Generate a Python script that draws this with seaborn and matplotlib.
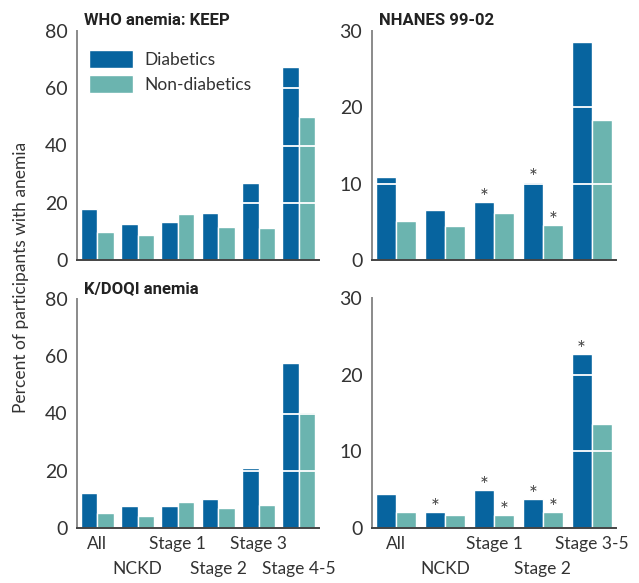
import matplotlib
matplotlib.use("Agg")
import matplotlib.pyplot as plt
import pandas as pd
import seaborn as sns

# ---- data -------------------------------------------------------------
groups = ["Diabetics", "Non-diabetics"]
keep_stages = ["All", "NCKD", "Stage 1", "Stage 2", "Stage 3", "Stage 4-5"]
nhanes_stages = ["All", "NCKD", "Stage 1", "Stage 2", "Stage 3-5"]

who_keep_diab = [17.8, 12.6, 13.3, 16.4, 26.9, 67.4]
who_keep_nondiab = [9.8, 8.7, 16.1, 11.5, 11.2, 49.9]
who_nhanes_diab = [10.9, 6.55, 7.6, 10.2, 28.6]
who_nhanes_nondiab = [5.1, 4.45, 6.15, 4.6, 18.3]
kdoqi_keep_diab = [12.3, 7.8, 7.8, 10.2, 21.0, 57.7]
kdoqi_keep_nondiab = [5.3, 4.3, 9.2, 7.1, 8.1, 40.6]
kdoqi_nhanes_diab = [4.5, 2.1, 5.0, 3.8, 22.7]
kdoqi_nhanes_nondiab = [2.1, 1.75, 1.75, 2.1, 13.6]

# significance flags (1 = marked with an asterisk)
who_nhanes_sig_diab = [0, 0, 1, 1, 0]
who_nhanes_sig_nondiab = [0, 0, 0, 1, 0]
kdoqi_nhanes_sig_diab = [0, 1, 1, 1, 1]
kdoqi_nhanes_sig_nondiab = [0, 0, 1, 1, 0]

keep_yticks = [0, 20, 40, 60, 80]
nhanes_yticks = [0, 10, 20, 30]

titles = ["WHO anemia: KEEP", "NHANES 99-02", "K/DOQI anemia", ""]
ylabel = "Percent of participants with anemia"

# ---- style ------------------------------------------------------------
sns.set_style("white")
plt.rcParams["font.family"] = ["Lato", "DejaVu Sans"]
TITLE_FONT = ["Roboto", "DejaVu Sans"]
BLUE = "#07649f"
TEAL = "#6bb4af"
TEXT = "#333333"

fig = plt.figure(figsize=(6.39, 5.83), dpi=100)
W, H = 639, 583


def add_axes(x0, y0, x1, y1):
    return fig.add_axes([x0 / W, 1 - y1 / H, (x1 - x0) / W, (y1 - y0) / H])


def panel(ax, stages, diab, nondiab, yticks, title, show_x,
          sig_d=None, sig_n=None, legend=False):
    df = pd.DataFrame({
        "stage": stages * 2,
        "group": [groups[0]] * len(stages) + [groups[1]] * len(stages),
        "pct": diab + nondiab,
    })
    sns.barplot(data=df, x="stage", y="pct", hue="group", order=stages,
                hue_order=groups, palette=[BLUE, TEAL], saturation=1,
                width=0.82, errorbar=None, legend=legend, ax=ax, zorder=1)
    ax.set_xlim(-0.5, len(stages) - 0.5)
    ax.set_ylim(0, yticks[-1])
    ax.set_yticks(yticks)
    ax.set_xlabel("")
    ax.set_ylabel("")
    ax.tick_params(axis="both", length=0, colors=TEXT)
    ax.tick_params(axis="y", pad=7, labelsize=14)
    ax.tick_params(axis="x", pad=6, labelsize=12.5)

    # white reference lines drawn across the bars
    for t in yticks[1:-1]:
        ax.axhline(t, color="white", lw=1.3, zorder=3)

    for side in ("top", "right"):
        ax.spines[side].set_visible(False)
    ax.spines["left"].set_color("#8a8a8a")
    ax.spines["left"].set_linewidth(1.4)
    ax.spines["bottom"].set_color("#444444")
    ax.spines["bottom"].set_linewidth(1.4)
    ax.spines["left"].set_zorder(4)
    ax.spines["bottom"].set_zorder(4)

    if show_x:
        ax.set_xticks(range(len(stages)))
        ax.set_xticklabels(stages)
        for i, lbl in enumerate(ax.get_xticklabels()):
            if i % 2 == 1:
                lbl.set_y(-0.109)
    else:
        ax.tick_params(axis="x", labelbottom=False)

    if title:
        ax.text(0.03, 1.015, title, transform=ax.transAxes, ha="left",
                va="bottom", fontsize=12, fontweight="bold",
                family=TITLE_FONT, color="#222222")

    if sig_d is not None:
        for container, flags in zip(ax.containers, [sig_d, sig_n]):
            for bar, flag in zip(container, flags):
                if flag:
                    ax.annotate("*", (bar.get_x() + bar.get_width() / 2,
                                      bar.get_height()),
                                xytext=(0, -4.5), textcoords="offset points",
                                ha="center", va="bottom", fontsize=15,
                                color="#444444")

    if legend:
        sns.move_legend(ax, "upper left", bbox_to_anchor=(-0.013, 0.985),
                        frameon=False, title=None, fontsize=12.5,
                        handlelength=2.5, handleheight=1.2,
                        handletextpad=0.65, labelspacing=0.42)
        for txt in ax.get_legend().get_texts():
            txt.set_color(TEXT)


ax1 = add_axes(77, 31, 319, 260)
ax2 = add_axes(372, 31, 616, 260)
ax3 = add_axes(77, 299, 319, 528)
ax4 = add_axes(372, 298, 616, 528)

panel(ax1, keep_stages, who_keep_diab, who_keep_nondiab, keep_yticks,
      titles[0], False, legend=True)
panel(ax2, nhanes_stages, who_nhanes_diab, who_nhanes_nondiab, nhanes_yticks,
      titles[1], False, who_nhanes_sig_diab, who_nhanes_sig_nondiab)
panel(ax3, keep_stages, kdoqi_keep_diab, kdoqi_keep_nondiab, keep_yticks,
      titles[2], True)
panel(ax4, nhanes_stages, kdoqi_nhanes_diab, kdoqi_nhanes_nondiab,
      nhanes_yticks, titles[3], True, kdoqi_nhanes_sig_diab,
      kdoqi_nhanes_sig_nondiab)

fig.text(21 / W, 1 - 277 / H, ylabel, rotation=90, ha="center", va="center",
         fontsize=12.5, color=TEXT)

fig.savefig("out.png", dpi=100)
